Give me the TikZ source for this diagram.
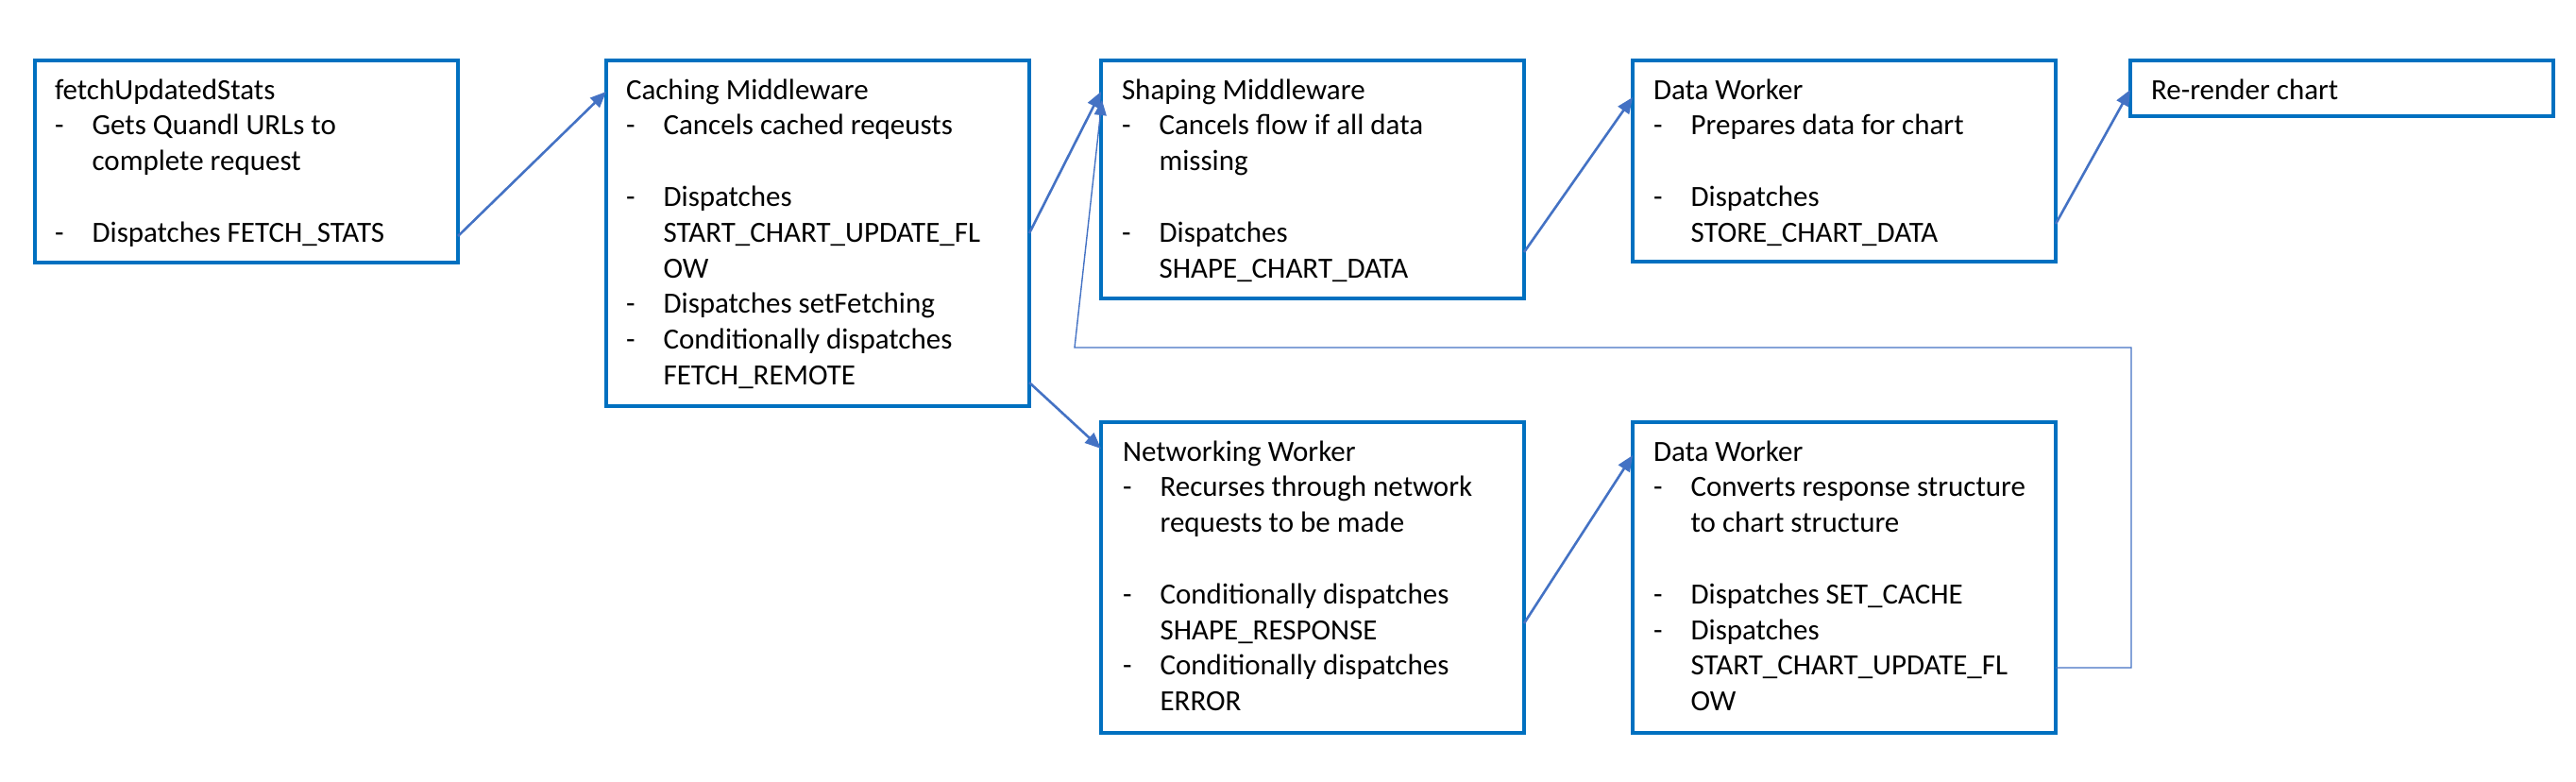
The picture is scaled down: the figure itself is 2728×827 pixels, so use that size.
\documentclass[tikz,border=0pt]{standalone}
\usepackage{fontspec}
\setmainfont{Carlito}
\usetikzlibrary{arrows.meta,calc}
\definecolor{boxblue}{HTML}{0070C0}
\definecolor{linkblue}{HTML}{4472C4}
\newcommand{\rsdash}[1]{\makebox[19.8pt][l]{-}#1}
\newcommand{\rscont}[1]{\hspace*{19.8pt}#1}
\begin{document}
\begin{tikzpicture}[x=0.5pt,y=-0.5pt,
  box/.style={draw=boxblue, line width=1.7pt, rectangle, anchor=north west,
              minimum width=224pt, inner sep=0pt, outer sep=0pt},
  txt/.style={anchor=base west, inner sep=0pt, outer sep=0pt,
              font=\fontsize{15.5}{18.9}\selectfont, text=black},
  link/.style={draw=linkblue, line width=1.3pt, -{Triangle[length=8.5pt,width=7pt]}},
  backlink/.style={draw=linkblue, line width=0.7pt, -{Triangle[length=8pt,width=6.5pt]}}]
\useasboundingbox (0,0) rectangle (2728,827);
\fill[white] (0,0) rectangle (2728,827);

% boxes
\node[box, minimum height=107pt]   (b1) at (37,64)   {};
\node[box, minimum height=183pt]   (b2) at (642,64)  {};
\node[box, minimum height=126pt]   (b3) at (1166,64) {};
\node[box, minimum height=106.5pt] (b5) at (1729,64) {};
\node[box, minimum height=29.5pt]  (b6) at (2256,64) {};
\node[box, minimum height=164.5pt] (b4) at (1166,447) {};
\node[box, minimum height=164.5pt] (b7) at (1729,447) {};

% texts
\node[txt] (t1) at ($(b1.north west)+(21,41)$) {\parbox[t]{300pt}{\raggedright
fetchUpdatedStats\\
\rsdash{Gets Quandl URLs to}\\
\rscont{complete request}\\
\mbox{}\\
\rsdash{Dispatches FETCH\_STATS}}};

\node[txt] (t2) at ($(b2.north west)+(21,41)$) {\parbox[t]{300pt}{\raggedright
Caching Middleware\\
\rsdash{Cancels cached reqeusts}\\
\mbox{}\\
\rsdash{Dispatches}\\
\rscont{START\_CHART\_UPDATE\_FL}\\
\rscont{OW}\\
\rsdash{Dispatches setFetching}\\
\rsdash{Conditionally dispatches}\\
\rscont{FETCH\_REMOTE}}};

\node[txt] (t3) at ($(b3.north west)+(22,41)$) {\parbox[t]{300pt}{\raggedright
Shaping Middleware\\
\rsdash{Cancels flow if all data}\\
\rscont{missing}\\
\mbox{}\\
\rsdash{Dispatches}\\
\rscont{SHAPE\_CHART\_DATA}}};

\node[txt] (t5) at ($(b5.north west)+(22,41)$) {\parbox[t]{300pt}{\raggedright
Data Worker\\
\rsdash{Prepares data for chart}\\
\mbox{}\\
\rsdash{Dispatches}\\
\rscont{STORE\_CHART\_DATA}}};

\node[txt] (t6) at ($(b6.north west)+(22,41)$) {Re-render chart};

\node[txt] (t4) at ($(b4.north west)+(23,41)$) {\parbox[t]{300pt}{\raggedright
Networking Worker\\
\rsdash{Recurses through network}\\
\rscont{requests to be made}\\
\mbox{}\\
\rsdash{Conditionally dispatches}\\
\rscont{SHAPE\_RESPONSE}\\
\rsdash{Conditionally dispatches}\\
\rscont{ERROR}}};

\node[txt] (t7) at ($(b7.north west)+(22,41)$) {\parbox[t]{300pt}{\raggedright
Data Worker\\
\rsdash{Converts response structure}\\
\rscont{to chart structure}\\
\mbox{}\\
\rsdash{Dispatches SET\_CACHE}\\
\rsdash{Dispatches}\\
\rscont{START\_CHART\_UPDATE\_FL}\\
\rscont{OW}}};

% connectors
\draw[link] ($(b1.north east)+(0,186)$) -- ($(b2.north west)+(0,33)$);
\draw[link] ($(b2.north east)+(0,183)$) -- ($(b3.north west)+(0,33)$);
\draw[link] ($(b2.north east)+(0,341)$) -- ($(b4.north west)+(0,28)$);
\draw[link] ($(b3.north east)+(0,203)$) -- ($(b5.north west)+(0,39)$);
\draw[link] ($(b5.north east)+(0,173)$) -- ($(b6.north west)+(0,31)$);
\draw[link] ($(b4.north east)+(0,213)$) -- ($(b7.north west)+(0,35)$);

% feedback connector
\coordinate (fb1) at ($(b7.north east)+(80,260)$);
\coordinate (fb2) at ($(fb1)+(0,-339)$);
\coordinate (fb3) at ($(b3.north west)+(-28,304)$);
\draw[backlink] ($(b7.north east)+(0,260)$) -- (fb1) -- (fb2) -- (fb3) -- ($(b3.north west)+(1,42)$);
\end{tikzpicture}
\end{document}
